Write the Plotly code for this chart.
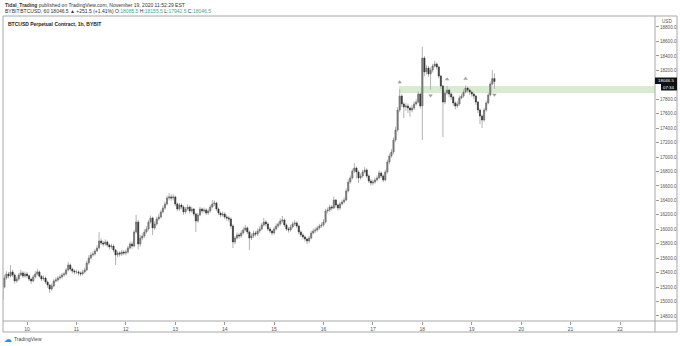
import pandas as pd
import plotly.graph_objects as go

# BYBIT:BTCUSD hourly candles, Nov 9 12:00 -> Nov 19 11:00
first_open = 15020
closes = [
    15200, 15326, 15381, 15353, 15409, 15367, 15284, 15312, 15367, 15395, 15353, 15381,
    15355, 15310, 15285, 15340, 15380, 15410, 15350, 15312, 15326, 15270, 15229, 15173,
    15215, 15284, 15298, 15326, 15339, 15367, 15381, 15436, 15505, 15450, 15422, 15409,
    15410, 15395, 15381, 15409, 15436, 15533, 15602, 15644, 15658, 15699, 15741, 15838,
    15810, 15796, 15824, 15782, 15755, 15768, 15713, 15644, 15672, 15658, 15685, 15672,
    15685, 15741, 15796, 15768, 15962, 16100, 15796, 15879, 15907, 15962, 16004, 16100,
    16156, 16018, 16073, 16142, 16170, 16239, 16294, 16350, 16433, 16447, 16433, 16447,
    16350, 16280, 16336, 16308, 16239, 16280, 16308, 16253, 16280, 16211, 16114, 16197,
    16280, 16253, 16267, 16225, 16253, 16308, 16350, 16364, 16280, 16225, 16197, 16211,
    16170, 16156, 16142, 16045, 15824, 15879, 15921, 15907, 15948, 15990, 16018, 15962,
    15879, 15907, 15948, 15934, 15976, 16004, 16059, 16100, 16073, 16004, 15976, 15948,
    16004, 16045, 16073, 16114, 16128, 16059, 16004, 15990, 16031, 16073, 16087, 16045,
    15962, 15921, 15893, 15865, 15838, 15879, 15948, 15976, 15990, 16018, 16045, 16059,
    16100, 16253, 16267, 16308, 16294, 16405, 16336, 16294, 16350, 16377, 16405, 16530,
    16654, 16710, 16806, 16848, 16793, 16710, 16737, 16793, 16820, 16737, 16668, 16640,
    16654, 16682, 16710, 16779, 16737, 16682, 16793, 16931, 17014, 17069, 17235, 17374,
    17651, 17844, 17734, 17692, 17706, 17678, 17651, 17678, 17734, 17761, 17872, 17706,
    18370, 18177, 18232, 18149, 18204, 18260, 18287, 18246, 18121, 17983, 17761, 17886,
    17927, 17872, 17831, 17748, 17706, 17734, 17817, 17844, 17900, 17955, 17927, 17900,
    17872, 17844, 17761, 17651, 17568, 17512, 17651, 17748, 17858, 18010, 18085.5, 18046.5,
]
highs = [
    15245, 15370, 15420, 15410, 15505, 15440, 15390, 15345, 15395, 15440, 15420, 15415,
    15410, 15375, 15330, 15370, 15420, 15455, 15430, 15370, 15360, 15345, 15290, 15245,
    15250, 15310, 15335, 15350, 15375, 15395, 15410, 15465, 15545, 15525, 15470, 15445,
    15440, 15430, 15415, 15440, 15470, 15565, 15640, 15675, 15695, 15730, 15780, 15960,
    15870, 15840, 15860, 15845, 15800, 15800, 15790, 15730, 15700, 15695, 15715, 15710,
    15720, 15770, 15830, 15830, 15990, 16200, 16130, 15920, 15945, 16000, 16040, 16130,
    16190, 16175, 16110, 16175, 16210, 16270, 16330, 16385, 16465, 16500, 16480, 16485,
    16465, 16370, 16365, 16360, 16330, 16310, 16345, 16330, 16315, 16295, 16230, 16225,
    16310, 16300, 16300, 16290, 16285, 16340, 16405, 16400, 16380, 16300, 16245, 16245,
    16235, 16200, 16185, 16165, 16070, 15910, 15955, 15950, 15985, 16030, 16060, 16040,
    15985, 15940, 15980, 15975, 16010, 16040, 16090, 16156, 16125, 16095, 16030, 15995,
    16035, 16080, 16105, 16150, 16184, 16150, 16080, 16030, 16065, 16105, 16125, 16110,
    16065, 15985, 15945, 15915, 15885, 15910, 15980, 16010, 16025, 16050, 16075, 16095,
    16140, 16285, 16300, 16340, 16335, 16450, 16420, 16355, 16380, 16410, 16440, 16565,
    16690, 16745, 16840, 16917, 16870, 16815, 16770, 16825, 16860, 16845, 16760, 16695,
    16690, 16715, 16745, 16815, 16800, 16760, 16825, 16965, 17050, 17110, 17270, 17420,
    17690, 17941, 17870, 17760, 17745, 17740, 17700, 17720, 17770, 17800, 17910, 17890,
    18523, 18400, 18270, 18260, 18240, 18290, 18330, 18310, 18265, 18140, 18000, 17920,
    17983, 17945, 17895, 17850, 17770, 17770, 17850, 17880, 17935, 17990, 17975, 17950,
    17920, 17890, 17860, 17775, 17670, 17590, 17680, 17780, 17890, 18045, 18204, 18155.5,
]
lows = [
    14980, 15180, 15300, 15320, 15335, 15340, 15250, 15260, 15290, 15350, 15325, 15330,
    15320, 15280, 15245, 15265, 15320, 15360, 15330, 15280, 15290, 15240, 15190, 15118,
    15150, 15195, 15260, 15270, 15300, 15315, 15340, 15360, 15420, 15420, 15390, 15375,
    15380, 15360, 15350, 15360, 15390, 15420, 15510, 15580, 15620, 15635, 15680, 15720,
    15780, 15760, 15770, 15750, 15720, 15730, 15680, 15505, 15610, 15620, 15630, 15640,
    15640, 15660, 15720, 15730, 15750, 15940, 15720, 15760, 15850, 15880, 15940, 15980,
    16080, 15920, 15990, 16050, 16120, 16150, 16220, 16270, 16330, 16400, 16395, 16400,
    16320, 16250, 16255, 16275, 16200, 16215, 16260, 16220, 16230, 16180, 15962, 16090,
    16180, 16220, 16230, 16195, 16200, 16230, 16290, 16320, 16250, 16195, 16165, 16175,
    16140, 16120, 16105, 16010, 15740, 15790, 15860, 15870, 15880, 15925, 15970, 15930,
    15713, 15850, 15880, 15900, 15905, 15950, 15985, 16040, 16040, 15975, 15945, 15915,
    15925, 15985, 16020, 16050, 16090, 16030, 15975, 15955, 15965, 16010, 16045, 16015,
    15930, 15890, 15860, 15830, 15795, 15810, 15860, 15930, 15950, 15965, 15995, 16020,
    16035, 16080, 16220, 16240, 16260, 16280, 16300, 16260, 16270, 16330, 16355, 16390,
    16510, 16630, 16690, 16780, 16700, 16640, 16690, 16715, 16775, 16710, 16640, 16605,
    16610, 16630, 16660, 16690, 16705, 16650, 16665, 16770, 16900, 16990, 17040, 17210,
    17350, 17620, 17690, 17540, 17640, 17610, 17560, 17620, 17650, 17710, 17740, 17670,
    17235, 18120, 18140, 18110, 17930, 18170, 18240, 18210, 18090, 17940, 17277, 17730,
    17860, 17830, 17790, 17710, 17660, 17680, 17710, 17800, 17820, 17880, 17895, 17860,
    17835, 17800, 17720, 17610, 17457, 17400, 17490, 17630, 17730, 17840, 17990, 17942.5,
]
opens = [first_open] + closes[:-1]
times = pd.date_range("2020-11-09 12:00", periods=len(closes), freq="h")

# Williams-style fractal bars (indices into the series)
up_fractal_bars = [193, 216, 225]
down_fractal_bars = [208, 239]

# support/resistance zone
zone_low, zone_high = 17887, 17983
zone_start = "2020-11-17 12:40"

last_price = 18046.5
countdown = "07:34"

day_ticks = pd.date_range("2020-11-10", "2020-11-22", freq="D")
day_labels = [str(d.day) for d in day_ticks]
# the level sitting under the last-price tag is covered by it, so it is left out
price_ticks = [p for p in range(14800, 18801, 200) if abs(p - last_price) > 100]

x_range = ["2020-11-09 12:20", "2020-11-22 17:00"]
y_range = [14730, 18952]

W, H = 680, 346
L, R, T, B = 3, 25, 16, 25
PW, PH = W - L - R, H - T - B


def px(x):
    return (x - L) / PW


def py(y):
    return (H - B - y) / PH


FONT = "Liberation Sans"
frame = "#a8a8a8"
teal = "#3fa98f"

fig = go.Figure()

# wicks
fig.add_trace(go.Candlestick(
    x=times, open=opens, high=highs, low=lows, close=closes,
    increasing=dict(line=dict(color="#b3b3b3", width=1), fillcolor="#b3b3b3"),
    decreasing=dict(line=dict(color="#b3b3b3", width=1), fillcolor="#b3b3b3"),
    whiskerwidth=0, hoverinfo="skip", showlegend=False,
))
# bodies
body_top = [max(o, c) for o, c in zip(opens, closes)]
body_bot = [min(o, c) for o, c in zip(opens, closes)]
fig.add_trace(go.Candlestick(
    x=times, open=opens, high=body_top, low=body_bot, close=closes,
    increasing=dict(line=dict(color="#6a6a6a", width=0.5), fillcolor="#7e7e7e"),
    decreasing=dict(line=dict(color="#333333", width=0.5), fillcolor="#333333"),
    whiskerwidth=0, showlegend=False,
))

# fractal markers
fig.add_trace(go.Scatter(
    x=[times[i] for i in up_fractal_bars],
    y=[highs[i] + 95 for i in up_fractal_bars],
    mode="markers", marker=dict(symbol="triangle-up", size=4, color="#a0a0a0"),
    showlegend=False, hoverinfo="skip",
))
fig.add_trace(go.Scatter(
    x=[times[i] for i in down_fractal_bars],
    y=[lows[i] - 80 for i in down_fractal_bars],
    mode="markers", marker=dict(symbol="triangle-down", size=4, color="#a0a0a0"),
    showlegend=False, hoverinfo="skip",
))

shapes = [
    # zone
    dict(type="rect", xref="x", yref="y", x0=zone_start, x1=x_range[1],
         y0=zone_low, y1=zone_high, fillcolor="rgba(170,210,150,0.45)",
         line=dict(width=0), layer="below"),
    # frame
    dict(type="line", xref="paper", yref="paper", x0=0, x1=px(677), y0=1, y1=1,
         line=dict(color=frame, width=1)),
    dict(type="line", xref="paper", yref="paper", x0=0, x1=px(677), y0=py(332), y1=py(332),
         line=dict(color=frame, width=1)),
    dict(type="line", xref="paper", yref="paper", x0=0, x1=0, y0=py(332), y1=1,
         line=dict(color=frame, width=1)),
    dict(type="line", xref="paper", yref="paper", x0=px(677), x1=px(677), y0=py(332), y1=1,
         line=dict(color=frame, width=1)),
    dict(type="line", xref="paper", yref="paper", x0=0, x1=px(677), y0=0, y1=0,
         line=dict(color=frame, width=1)),
    dict(type="line", xref="paper", yref="paper", x0=1, x1=1, y0=py(332), y1=1,
         line=dict(color=frame, width=1)),
    # last price and countdown tags
    dict(type="rect", xref="paper", yref="paper", x0=1, x1=px(677),
         y0=py(84), y1=py(77.5), fillcolor="#111111", line=dict(width=0)),
    dict(type="rect", xref="paper", yref="paper", x0=px(661), x1=px(677),
         y0=py(90.5), y1=py(84), fillcolor="#111111", line=dict(width=0)),
]

annotations = [
    dict(xref="paper", yref="paper", x=0, y=py(5), xanchor="left", yanchor="middle",
         showarrow=False, font=dict(family=FONT, size=5, color="#333333"),
         text="<b>Tidal_Trading</b> published on TradingView.com, November 19, 2020 11:52:29 EST"),
    dict(xref="paper", yref="paper", x=0, y=py(11.5), xanchor="left", yanchor="middle",
         showarrow=False, font=dict(family=FONT, size=5, color="#333333"),
         text=("BYBIT:BTCUSD, 60 18046.5 ▲ +251.5 (+1.41%) "
               f"O:<span style='color:{teal}'>18085.5</span> "
               f"H:<span style='color:{teal}'>18155.5</span> "
               f"L:<span style='color:{teal}'>17942.5</span> "
               f"C:<span style='color:{teal}'>18046.5</span>")),
    dict(xref="paper", yref="paper", x=px(6), y=py(24), xanchor="left", yanchor="middle",
         showarrow=False, font=dict(family=FONT, size=5, color="#222222"),
         text="<b>BTCUSD Perpetual Contract, 1h, BYBIT</b>"),
    dict(xref="paper", yref="paper", x=px(667), y=py(21), xanchor="center", yanchor="middle",
         showarrow=False, font=dict(family=FONT, size=4.6, color="#555555"),
         text="USD", bgcolor="white", borderpad=0),
    dict(xref="paper", yref="paper", x=px(666), y=py(80.7), xanchor="center", yanchor="middle",
         showarrow=False, font=dict(family=FONT, size=4.4, color="white"),
         text=f"{last_price:.1f}", borderpad=0),
    dict(xref="paper", yref="paper", x=px(669), y=py(87.4), xanchor="center", yanchor="middle",
         showarrow=False, font=dict(family=FONT, size=4.4, color="white"),
         text=countdown, borderpad=0),
    dict(xref="paper", yref="paper", x=px(2), y=py(339), xanchor="left", yanchor="middle",
         showarrow=False, font=dict(family="DejaVu Sans", size=8, color="#2d8fd8"),
         text="☁"),
    dict(xref="paper", yref="paper", x=px(12), y=py(339), xanchor="left", yanchor="middle",
         showarrow=False, font=dict(family=FONT, size=5, color="#444444"),
         text="TradingView"),
]

fig.update_layout(
    width=W, height=H,
    margin=dict(l=L, r=R, t=T, b=B),
    paper_bgcolor="white", plot_bgcolor="white",
    shapes=shapes, annotations=annotations,
    showlegend=False,
    xaxis=dict(
        range=x_range, type="date", rangeslider=dict(visible=False),
        tickvals=day_ticks, ticktext=day_labels,
        ticks="outside", ticklen=3, tickcolor="#999999",
        tickfont=dict(family=FONT, size=5, color="#555555"),
        showgrid=False, zeroline=False, showline=False,
    ),
    yaxis=dict(
        range=y_range, side="right",
        tickvals=price_ticks, tickformat=".1f",
        ticks="outside", ticklen=3, tickcolor="#999999",
        tickfont=dict(family=FONT, size=4.6, color="#555555"),
        showgrid=False, zeroline=False, showline=False,
    ),
)

fig.write_html("out.html")
